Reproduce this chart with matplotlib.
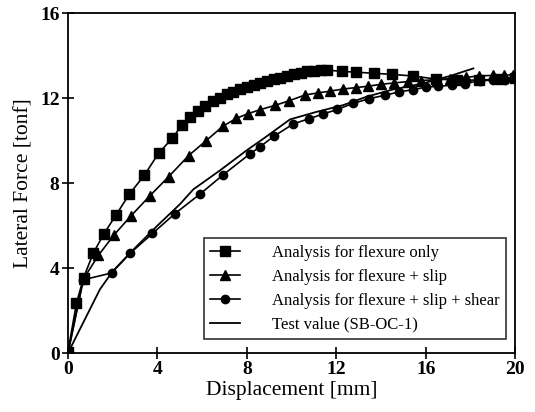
import matplotlib
matplotlib.use("Agg")
import matplotlib.pyplot as plt

plt.rcParams['font.family'] = ['Liberation Serif', 'DejaVu Serif']

# Analysis for flexure only (squares)
flex_x = [0, 0.38, 0.7, 1.13, 1.6, 2.15, 2.74, 3.42, 4.05, 4.67, 5.09, 5.45, 5.8, 6.15,
          6.5, 6.8, 7.1, 7.4, 7.7, 8.0, 8.3, 8.6, 8.9, 9.2, 9.5, 9.8, 10.1, 10.4, 10.7,
          11.0, 11.3, 11.6, 12.25, 12.9, 13.7, 14.5, 15.45, 16.45, 17.4, 18.4, 19.3, 20.0]
flex_y = [0.05, 2.35, 3.55, 4.7, 5.6, 6.5, 7.47, 8.38, 9.4, 10.12, 10.72, 11.1, 11.4, 11.65,
          11.87, 12.03, 12.18, 12.3, 12.42, 12.52, 12.62, 12.72, 12.8, 12.88, 12.96, 13.04,
          13.12, 13.2, 13.26, 13.3, 13.32, 13.32, 13.26, 13.22, 13.17, 13.12, 13.04, 12.9,
          12.85, 12.85, 12.9, 12.95]

# Analysis for flexure + slip (triangles)
slip_x = [0, 0.7, 1.36, 2.05, 2.83, 3.65, 4.5, 5.4, 6.18, 6.93, 7.53, 8.05, 8.6, 9.26, 9.9,
          10.6, 11.2, 11.72, 12.3, 12.9, 13.4, 14.0, 14.6, 15.2, 15.8, 16.5, 17.1, 17.8,
          18.4, 19.0, 19.5, 19.9]
slip_y = [0, 3.5, 4.6, 5.55, 6.47, 7.39, 8.3, 9.3, 10.0, 10.68, 11.05, 11.27, 11.46, 11.66,
          11.88, 12.15, 12.25, 12.33, 12.43, 12.5, 12.56, 12.65, 12.72, 12.78, 12.83, 12.87,
          12.92, 12.98, 13.05, 13.07, 13.08, 13.1]

# Analysis for flexure + slip + shear (circles)
shear_x = [0, 0.68, 1.95, 2.77, 3.78, 4.79, 5.9, 6.95, 8.14, 8.6, 9.2, 10.08, 10.8, 11.4,
           12.05, 12.74, 13.48, 14.2, 14.82, 15.45, 16.0, 16.57, 17.17, 17.76, 18.43, 19.0,
           19.55, 20.0]
shear_y = [0, 3.45, 3.77, 4.69, 5.63, 6.57, 7.48, 8.4, 9.38, 9.72, 10.2, 10.79, 11.04, 11.25,
           11.47, 11.75, 11.98, 12.14, 12.3, 12.4, 12.52, 12.56, 12.61, 12.69, 12.82, 12.85,
           12.87, 12.9]

# Test value (SB-OC-1)
test_x = [0, 1.43, 2.0, 3.0, 4.0, 5.0, 5.6, 6.8, 8.0, 8.75, 9.93, 11.1, 12.3, 13.36, 14.5,
          15.9, 17.1, 18.13]
test_y = [0, 3.0, 3.85, 4.95, 6.0, 7.0, 7.7, 8.6, 9.55, 10.1, 11.0, 11.35, 11.67, 12.07,
          12.4, 12.7, 13.05, 13.4]

labels = ["Analysis for flexure only", "Analysis for flexure + slip",
          "Analysis for flexure + slip + shear", "Test value (SB-OC-1)"]
xticks = [0, 4, 8, 12, 16, 20]
yticks = [0, 4, 8, 12, 16]

fig = plt.figure(figsize=(5.35, 4.12), dpi=100)
ax = fig.add_axes([0.127, 0.143, 0.836, 0.825])

ax.plot(flex_x, flex_y, color='black', lw=1.2, marker='s', ms=7, label=labels[0])
ax.plot(slip_x, slip_y, color='black', lw=1.2, marker='^', ms=7.5, label=labels[1])
ax.plot(shear_x, shear_y, color='black', lw=1.2, marker='o', ms=6, label=labels[2])
ax.plot(test_x, test_y, color='black', lw=1.3, label=labels[3])

ax.set_xlim(0, 20)
ax.set_ylim(0, 16)
ax.set_xticks(xticks)
ax.set_yticks(yticks)
ax.set_xticklabels([str(t) for t in xticks], fontweight='bold', fontsize=14)
ax.set_yticklabels([str(t) for t in yticks], fontweight='bold', fontsize=14)
ax.tick_params(direction='inout', length=8, width=1.2, pad=2)
for s in ax.spines.values():
    s.set_linewidth(1.3)

ax.set_xlabel("Displacement [mm]", fontsize=15.5, labelpad=2)
ax.set_ylabel("Lateral Force [tonf]", fontsize=15.5, labelpad=5)

leg = ax.legend(loc='lower right', bbox_to_anchor=(0.98, 0.04), fontsize=12,
                frameon=True, fancybox=False, edgecolor='black', handlelength=1.8,
                borderpad=0.4, labelspacing=0.48, handletextpad=1.9, borderaxespad=0)
leg.get_frame().set_linewidth(1.2)

fig.savefig("out.png", dpi=100)
